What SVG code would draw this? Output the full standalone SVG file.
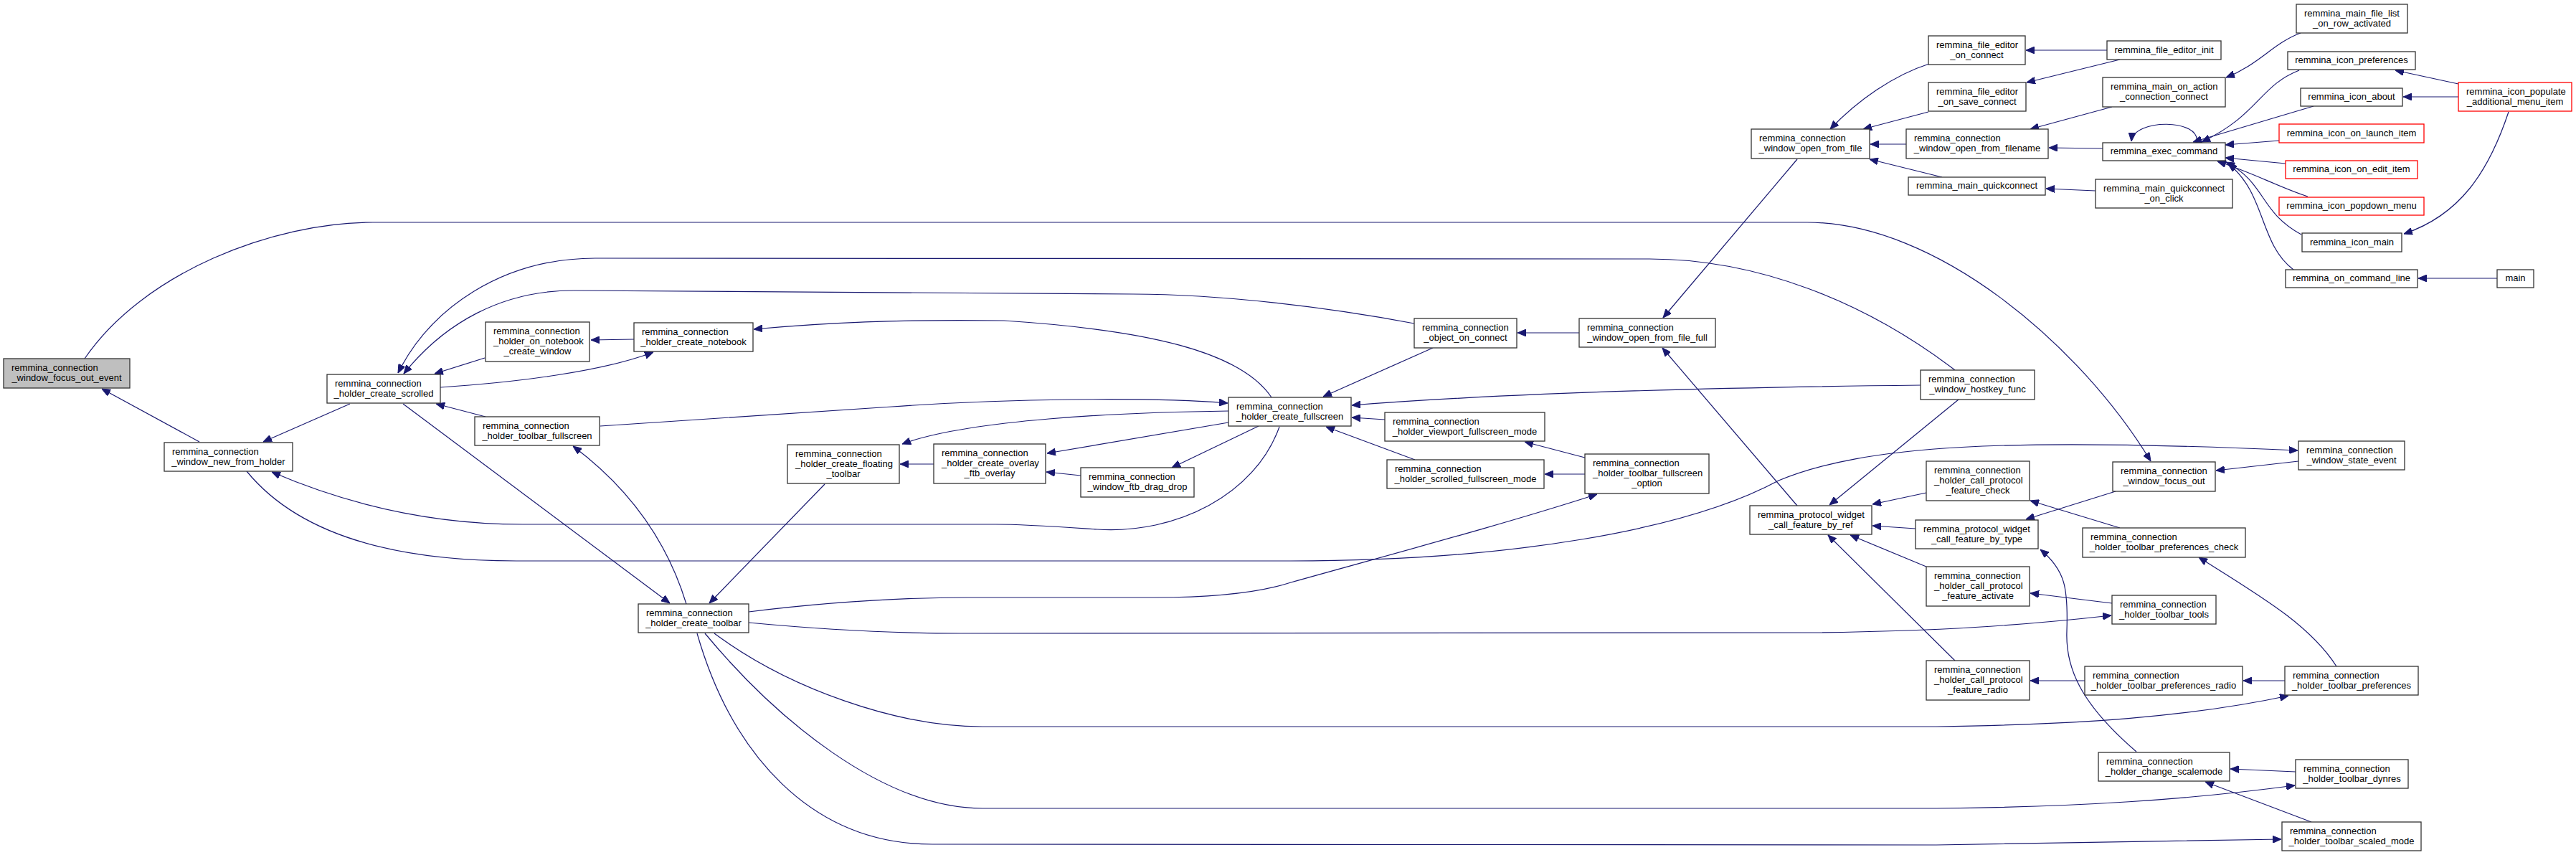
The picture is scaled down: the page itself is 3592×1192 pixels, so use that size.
<svg xmlns="http://www.w3.org/2000/svg" width="3592" height="1192" viewBox="0 0 3592 1192">
<defs>
<style>
.t{font-family:"Liberation Sans",Arial,sans-serif;font-size:13px;fill:#000}
.m{text-anchor:middle}
.b{fill:#fff;stroke:#333;stroke-width:1.3}
.r{stroke:#f00}
.root{fill:#bfbfbf}
.e{fill:none;stroke:#191970;stroke-width:1.2;marker-end:url(#ah)}
</style>
<marker id="ah" markerUnits="userSpaceOnUse" markerWidth="12" markerHeight="10" viewBox="0 0 12 10" refX="12" refY="5" orient="auto">
<path d="M0,0 L12,5 L0,10 z" fill="#191970" stroke="#191970"/>
</marker>
</defs>
<rect width="3592" height="1192" fill="#fff"/>
<g id="edges">
<path class="e" d="M278,616 L142,542"/>
<path class="e" d="M118,500 C200,380 380,310 520,310 L2520,310 C2700,310 2900,480 2999,643"/>
<path class="e" d="M2726,516 C2600,420 2450,361 2300,361 L830,360 C700,360 600,430 555,520"/>
<path class="e" d="M1972,451 C1850,428 1700,410 1580,410 L800,405 C700,405 620,450 563,521"/>
<path class="e" d="M614,540 C720,533 840,518 911,491"/>
<path class="e" d="M676,499 L606,521"/>
<path class="e" d="M884,473 L824,474"/>
<path class="e" d="M677,581 L608,563"/>
<path class="e" d="M488,563 L367,616"/>
<path class="e" d="M562,563 L934,841"/>
<path class="e" d="M957,842 C935,770 890,690 799,622"/>
<path class="e" d="M1150,675 L989,841"/>
<path class="e" d="M1784,595 C1750,690 1640,745 1530,738 C1470,734 1430,731 1388,731 L729,731 C620,731 500,710 379,658"/>
<path class="e" d="M344,657 C420,750 560,782 720,782 L1800,782 C2100,782 2350,740 2480,670 C2600,620 2800,610 3204,628"/>
<path class="e" d="M1044,853 C1150,840 1250,833 1350,833 L1610,833 C1700,833 1760,825 1800,812 C1950,770 2100,730 2227,689"/>
<path class="e" d="M1044,868 C1150,878 1250,883 1340,883 L2530,882 C2700,880 2820,872 2944,858"/>
<path class="e" d="M996,883 C1100,960 1250,1013 1370,1013 L2700,1013 C2900,1010 3050,1000 3191,970"/>
<path class="e" d="M983,883 C1080,1000 1230,1127 1370,1127 L2700,1127 C2900,1125 3050,1115 3200,1095"/>
<path class="e" d="M972,883 C1020,1050 1130,1177 1300,1177 L2700,1178 C2900,1176 3050,1173 3181,1170"/>
<path class="e" d="M1773,554 C1730,490 1600,460 1400,447 C1250,445 1150,450 1051,459"/>
<path class="e" d="M837,594 L1244,567 C1400,556 1600,553 1712,562"/>
<path class="e" d="M1713,573 C1560,575 1350,585 1258,619"/>
<path class="e" d="M1713,589 L1460,632"/>
<path class="e" d="M1755,594 L1634,652"/>
<path class="e" d="M1302,647 L1255,647"/>
<path class="e" d="M1507,663 L1459,658"/>
<path class="e" d="M1998,485 L1845,553"/>
<path class="e" d="M2678,537 C2400,540 2100,548 1885,565"/>
<path class="e" d="M1931,585 L1885,582"/>
<path class="e" d="M1973,641 L1849,595"/>
<path class="e" d="M2210,638 L2126,616"/>
<path class="e" d="M2210,661 L2154,661"/>
<path class="e" d="M2202,464 L2116,464"/>
<path class="e" d="M2506,222 L2319,443"/>
<path class="e" d="M2506,705 L2318,485"/>
<path class="e" d="M2731,557 L2551,704"/>
<path class="e" d="M2686,687 L2611,703"/>
<path class="e" d="M2671,737 L2611,733"/>
<path class="e" d="M2686,790 L2580,746"/>
<path class="e" d="M2726,921 L2549,746"/>
<path class="e" d="M3205,643 L3090,656"/>
<path class="e" d="M2950,685 L2825,724"/>
<path class="e" d="M2956,736 L2831,698"/>
<path class="e" d="M3258,929 C3220,870 3150,830 3066,777"/>
<path class="e" d="M2945,841 L2831,827"/>
<path class="e" d="M2907,949 L2831,949"/>
<path class="e" d="M3186,949 L3128,949"/>
<path class="e" d="M2979,1048 C2900,980 2880,930 2882,880 C2884,820 2880,795 2845,766"/>
<path class="e" d="M3201,1076 L3110,1072"/>
<path class="e" d="M3223,1146 L3075,1090"/>
<path class="e" d="M2690,89 C2640,105 2590,140 2552,180"/>
<path class="e" d="M2689,156 L2598,180"/>
<path class="e" d="M2658,201 L2608,201"/>
<path class="e" d="M2708,247 L2607,222"/>
<path class="e" d="M2938,70 L2825,70"/>
<path class="e" d="M2956,83 L2826,115"/>
<path class="e" d="M2945,149 L2831,180"/>
<path class="e" d="M2932,207 L2857,206"/>
<path class="e" d="M2922,266 L2853,263"/>
<path class="e" d="M3208,46 C3170,60 3150,90 3104,108"/>
<path class="e" d="M3063,199 C3070,165 2975,165 2972,197"/>
<path class="e" d="M3206,98 C3150,120 3150,160 3070,198"/>
<path class="e" d="M3226,148 L3058,198"/>
<path class="e" d="M3178,196 L3103,202"/>
<path class="e" d="M3187,228 L3103,220"/>
<path class="e" d="M3218,274 C3180,262 3140,240 3092,225"/>
<path class="e" d="M3209,327 C3150,295 3160,255 3104,226"/>
<path class="e" d="M3198,376 C3150,340 3160,270 3107,228"/>
<path class="e" d="M3482,388 L3372,388"/>
<path class="e" d="M3428,117 L3340,98"/>
<path class="e" d="M3428,135 L3351,135"/>
<path class="e" d="M3498,156 C3470,240 3430,300 3352,326"/>
</g>
<g id="n_focus_out_event"><rect class="b root" x="5" y="500" width="176" height="41"/><text class="t" x="16" y="517">remmina_connection</text><text class="t m" x="93" y="531">_window_focus_out_event</text></g>
<g id="n_new_from_holder"><rect class="b" x="229" y="617" width="179" height="40"/><text class="t" x="240" y="634">remmina_connection</text><text class="t m" x="318.5" y="648">_window_new_from_holder</text></g>
<g id="n_create_scrolled"><rect class="b" x="456" y="522" width="158" height="40"/><text class="t" x="467" y="539">remmina_connection</text><text class="t m" x="535" y="553">_holder_create_scrolled</text></g>
<g id="n_on_notebook_create_window"><rect class="b" x="677" y="449" width="145" height="55"/><text class="t" x="688" y="466">remmina_connection</text><text class="t" x="688" y="480">_holder_on_notebook</text><text class="t m" x="749.5" y="494">_create_window</text></g>
<g id="n_toolbar_fullscreen"><rect class="b" x="662" y="581" width="174" height="40"/><text class="t" x="673" y="598">remmina_connection</text><text class="t m" x="749" y="612">_holder_toolbar_fullscreen</text></g>
<g id="n_create_notebook"><rect class="b" x="884" y="450" width="166" height="40"/><text class="t" x="895" y="467">remmina_connection</text><text class="t m" x="967" y="481">_holder_create_notebook</text></g>
<g id="n_create_toolbar"><rect class="b" x="890" y="842" width="154" height="40"/><text class="t" x="901" y="859">remmina_connection</text><text class="t m" x="967" y="873">_holder_create_toolbar</text></g>
<g id="n_create_floating_toolbar"><rect class="b" x="1098" y="620" width="156" height="54"/><text class="t" x="1109" y="637">remmina_connection</text><text class="t" x="1109" y="651">_holder_create_floating</text><text class="t m" x="1176" y="665">_toolbar</text></g>
<g id="n_create_overlay_ftb_overlay"><rect class="b" x="1302" y="619" width="156" height="55"/><text class="t" x="1313" y="636">remmina_connection</text><text class="t" x="1313" y="650">_holder_create_overlay</text><text class="t m" x="1380" y="664">_ftb_overlay</text></g>
<g id="n_window_ftb_drag_drop"><rect class="b" x="1507" y="652" width="158" height="41"/><text class="t" x="1518" y="669">remmina_connection</text><text class="t m" x="1586" y="683">_window_ftb_drag_drop</text></g>
<g id="n_create_fullscreen"><rect class="b" x="1713" y="554" width="171" height="40"/><text class="t" x="1724" y="571">remmina_connection</text><text class="t m" x="1798.5" y="585">_holder_create_fullscreen</text></g>
<g id="n_object_on_connect"><rect class="b" x="1972" y="444" width="143" height="41"/><text class="t" x="1983" y="461">remmina_connection</text><text class="t m" x="2043.5" y="475">_object_on_connect</text></g>
<g id="n_viewport_fullscreen_mode"><rect class="b" x="1931" y="575" width="223" height="40"/><text class="t" x="1942" y="592">remmina_connection</text><text class="t m" x="2042.5" y="606">_holder_viewport_fullscreen_mode</text></g>
<g id="n_scrolled_fullscreen_mode"><rect class="b" x="1934" y="641" width="219" height="40"/><text class="t" x="1945" y="658">remmina_connection</text><text class="t m" x="2043.5" y="672">_holder_scrolled_fullscreen_mode</text></g>
<g id="n_open_from_file_full"><rect class="b" x="2202" y="444" width="190" height="40"/><text class="t" x="2213" y="461">remmina_connection</text><text class="t m" x="2297" y="475">_window_open_from_file_full</text></g>
<g id="n_toolbar_fullscreen_option"><rect class="b" x="2210" y="633" width="173" height="55"/><text class="t" x="2221" y="650">remmina_connection</text><text class="t" x="2221" y="664">_holder_toolbar_fullscreen</text><text class="t m" x="2296.5" y="678">_option</text></g>
<g id="n_open_from_file"><rect class="b" x="2442" y="180" width="165" height="41"/><text class="t" x="2453" y="197">remmina_connection</text><text class="t m" x="2524.5" y="211">_window_open_from_file</text></g>
<g id="n_call_feature_by_ref"><rect class="b" x="2440" y="705" width="170" height="40"/><text class="t" x="2451" y="722">remmina_protocol_widget</text><text class="t m" x="2525" y="736">_call_feature_by_ref</text></g>
<g id="n_file_editor_on_connect"><rect class="b" x="2689" y="50" width="135" height="40"/><text class="t" x="2700" y="67">remmina_file_editor</text><text class="t m" x="2756.5" y="81">_on_connect</text></g>
<g id="n_file_editor_on_save_connect"><rect class="b" x="2689" y="115" width="136" height="40"/><text class="t" x="2700" y="132">remmina_file_editor</text><text class="t m" x="2757" y="146">_on_save_connect</text></g>
<g id="n_open_from_filename"><rect class="b" x="2658" y="180" width="198" height="41"/><text class="t" x="2669" y="197">remmina_connection</text><text class="t m" x="2757" y="211">_window_open_from_filename</text></g>
<g id="n_main_quickconnect"><rect class="b" x="2661" y="247" width="191" height="25"/><text class="t m" x="2756.5" y="263">remmina_main_quickconnect</text></g>
<g id="n_hostkey_func"><rect class="b" x="2678" y="516" width="159" height="41"/><text class="t" x="2689" y="533">remmina_connection</text><text class="t m" x="2757.5" y="547">_window_hostkey_func</text></g>
<g id="n_feature_check"><rect class="b" x="2686" y="643" width="144" height="55"/><text class="t" x="2697" y="660">remmina_connection</text><text class="t" x="2697" y="674">_holder_call_protocol</text><text class="t m" x="2758" y="688">_feature_check</text></g>
<g id="n_call_feature_by_type"><rect class="b" x="2671" y="725" width="171" height="40"/><text class="t" x="2682" y="742">remmina_protocol_widget</text><text class="t m" x="2756.5" y="756">_call_feature_by_type</text></g>
<g id="n_feature_activate"><rect class="b" x="2686" y="790" width="144" height="55"/><text class="t" x="2697" y="807">remmina_connection</text><text class="t" x="2697" y="821">_holder_call_protocol</text><text class="t m" x="2758" y="835">_feature_activate</text></g>
<g id="n_feature_radio"><rect class="b" x="2686" y="921" width="144" height="55"/><text class="t" x="2697" y="938">remmina_connection</text><text class="t" x="2697" y="952">_holder_call_protocol</text><text class="t m" x="2758" y="966">_feature_radio</text></g>
<g id="n_file_editor_init"><rect class="b" x="2938" y="57" width="159" height="26"/><text class="t m" x="3017.5" y="74">remmina_file_editor_init</text></g>
<g id="n_main_on_action"><rect class="b" x="2932" y="108" width="171" height="41"/><text class="t" x="2943" y="125">remmina_main_on_action</text><text class="t m" x="3017.5" y="139">_connection_connect</text></g>
<g id="n_exec_command"><rect class="b" x="2932" y="199" width="171" height="25"/><text class="t m" x="3017.5" y="215">remmina_exec_command</text></g>
<g id="n_quickconnect_on_click"><rect class="b" x="2922" y="250" width="191" height="40"/><text class="t" x="2933" y="267">remmina_main_quickconnect</text><text class="t m" x="3017.5" y="281">_on_click</text></g>
<g id="n_window_focus_out"><rect class="b" x="2946" y="644" width="143" height="41"/><text class="t" x="2957" y="661">remmina_connection</text><text class="t m" x="3017.5" y="675">_window_focus_out</text></g>
<g id="n_toolbar_preferences_check"><rect class="b" x="2904" y="736" width="227" height="41"/><text class="t" x="2915" y="753">remmina_connection</text><text class="t m" x="3017.5" y="767">_holder_toolbar_preferences_check</text></g>
<g id="n_toolbar_tools"><rect class="b" x="2945" y="830" width="145" height="40"/><text class="t" x="2956" y="847">remmina_connection</text><text class="t m" x="3017.5" y="861">_holder_toolbar_tools</text></g>
<g id="n_toolbar_preferences_radio"><rect class="b" x="2907" y="929" width="220" height="40"/><text class="t" x="2918" y="946">remmina_connection</text><text class="t m" x="3017" y="960">_holder_toolbar_preferences_radio</text></g>
<g id="n_change_scalemode"><rect class="b" x="2926" y="1049" width="183" height="40"/><text class="t" x="2937" y="1066">remmina_connection</text><text class="t m" x="3017.5" y="1080">_holder_change_scalemode</text></g>
<g id="n_row_activated"><rect class="b" x="3202" y="6" width="155" height="40"/><text class="t" x="3213" y="23">remmina_main_file_list</text><text class="t m" x="3279.5" y="37">_on_row_activated</text></g>
<g id="n_icon_preferences"><rect class="b" x="3190" y="72" width="178" height="25"/><text class="t m" x="3279" y="88">remmina_icon_preferences</text></g>
<g id="n_icon_about"><rect class="b" x="3208" y="123" width="142" height="25"/><text class="t m" x="3279" y="139">remmina_icon_about</text></g>
<g id="n_icon_on_launch_item"><rect class="b r" x="3178" y="173" width="202" height="26"/><text class="t m" x="3279" y="190">remmina_icon_on_launch_item</text></g>
<g id="n_icon_on_edit_item"><rect class="b r" x="3187" y="224" width="184" height="25"/><text class="t m" x="3279" y="240">remmina_icon_on_edit_item</text></g>
<g id="n_icon_popdown_menu"><rect class="b r" x="3178" y="275" width="202" height="25"/><text class="t m" x="3279" y="291">remmina_icon_popdown_menu</text></g>
<g id="n_icon_main"><rect class="b" x="3210" y="325" width="139" height="26"/><text class="t m" x="3279.5" y="342">remmina_icon_main</text></g>
<g id="n_on_command_line"><rect class="b" x="3187" y="376" width="184" height="25"/><text class="t m" x="3279" y="392">remmina_on_command_line</text></g>
<g id="n_main"><rect class="b" x="3482" y="376" width="51" height="25"/><text class="t m" x="3507.5" y="392">main</text></g>
<g id="n_icon_populate"><rect class="b r" x="3428" y="115" width="158" height="40"/><text class="t" x="3439" y="132">remmina_icon_populate</text><text class="t m" x="3507" y="146">_additional_menu_item</text></g>
<g id="n_window_state_event"><rect class="b" x="3205" y="615" width="148" height="40"/><text class="t" x="3216" y="632">remmina_connection</text><text class="t m" x="3279" y="646">_window_state_event</text></g>
<g id="n_toolbar_preferences"><rect class="b" x="3186" y="929" width="186" height="40"/><text class="t" x="3197" y="946">remmina_connection</text><text class="t m" x="3279" y="960">_holder_toolbar_preferences</text></g>
<g id="n_toolbar_dynres"><rect class="b" x="3201" y="1059" width="157" height="40"/><text class="t" x="3212" y="1076">remmina_connection</text><text class="t m" x="3279.5" y="1090">_holder_toolbar_dynres</text></g>
<g id="n_toolbar_scaled_mode"><rect class="b" x="3182" y="1146" width="194" height="40"/><text class="t" x="3193" y="1163">remmina_connection</text><text class="t m" x="3279" y="1177">_holder_toolbar_scaled_mode</text></g>
</svg>
